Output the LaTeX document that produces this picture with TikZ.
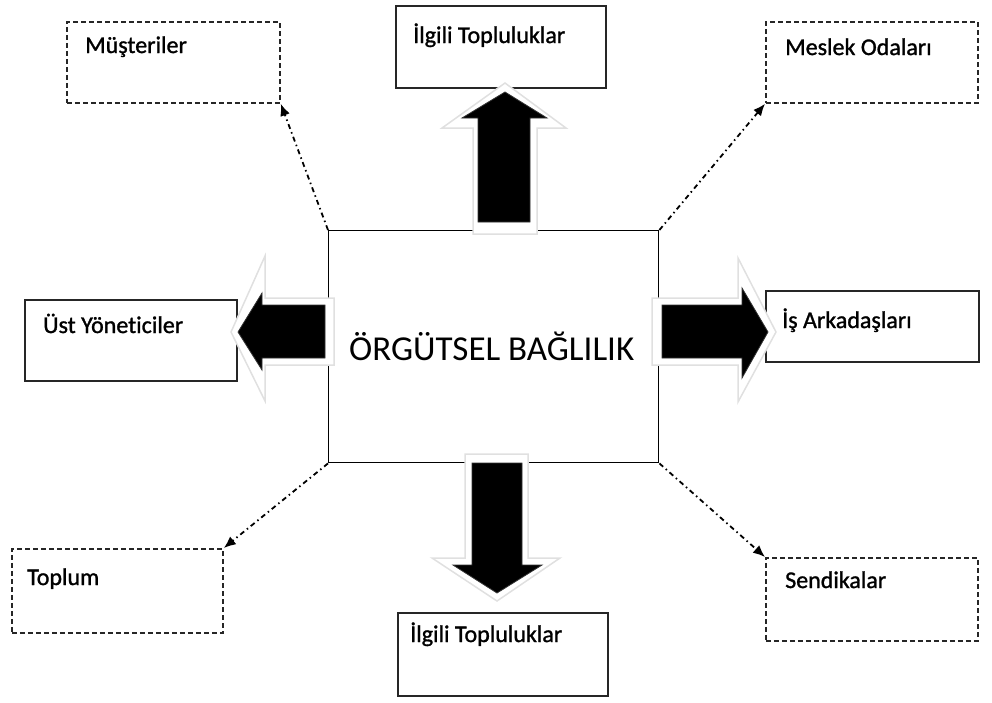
\documentclass[tikz,border=0pt]{standalone}
\usepackage{fontspec}
\setmainfont{Carlito}[Ligatures=NoCommon]
\newfontfamily\lblfont{Carlito}[Ligatures=NoCommon, FakeBold=1.2]
\usetikzlibrary{arrows.meta, calc}

\begin{document}
\begin{tikzpicture}[x=1pt, y=-1pt,
  solidbox/.style={draw=black!85, line width=1.8pt, rectangle, anchor=north west, inner sep=0pt},
  dashbox/.style={solidbox, dash pattern=on 5pt off 3pt},
  lbl/.style={anchor=base west, inner sep=0pt, font=\fontsize{24}{28}\lblfont},
  link/.style={line width=1.8pt, dash pattern=on 5pt off 3.5pt on 1.5pt off 3.5pt, -{Latex[length=12pt,width=10pt]}},
  halo/.style={fill=white, draw=black!12, line width=1.5pt},
  blk/.style={fill=black, draw=black!80, line width=0.8pt}]
\useasboundingbox (0,0) rectangle (992,702);

% Central box
\node[solidbox, draw=black, line width=1.4pt, minimum width=330, minimum height=232] (core) at (328,230) {};
\node[font=\fontsize{35}{40}\selectfont, inner sep=0pt] (core-t) at ($(core.center)+(-2,0)$) {ÖRGÜTSEL BAĞLILIK};

% Solid boxes
\node[solidbox, minimum width=210, minimum height=82] (topg) at (395,5) {};
\node[lbl] (topg-t) at ($(topg.north west)+(18,38)$) {İlgili Topluluklar};
\node[solidbox, minimum width=210, minimum height=83] (botg) at (397,612) {};
\node[lbl] (botg-t) at ($(botg.north west)+(13,30)$) {İlgili Topluluklar};
\node[solidbox, minimum width=212, minimum height=81] (ust) at (24,299) {};
\node[lbl] (ust-t) at ($(ust.north west)+(19,34)$) {Üst Yöneticiler};
\node[solidbox, minimum width=213, minimum height=71] (isark) at (765,290) {};
\node[lbl] (isark-t) at ($(isark.north west)+(17,38)$) {İş Arkadaşları};

% Dashed boxes
\node[dashbox, minimum width=213, minimum height=81] (must) at (66,21) {};
\node[lbl] (must-t) at ($(must.north west)+(19,32)$) {Müşteriler};
\node[dashbox, minimum width=212, minimum height=81] (meslek) at (765,21) {};
\node[lbl] (meslek-t) at ($(meslek.north west)+(20,34)$) {Meslek Odaları};
\node[dashbox, minimum width=211, minimum height=84] (toplum) at (11,548) {};
\node[lbl] (toplum-t) at ($(toplum.north west)+(16,37)$) {Toplum};
\node[dashbox, minimum width=212, minimum height=83] (sendika) at (765,557) {};
\node[lbl] (sendika-t) at ($(sendika.north west)+(20,31)$) {Sendikalar};

% Dash-dot links
\draw[link] (core.north west) -- (must.south east);
\draw[link] (core.north east) -- (meslek.south west);
\draw[link] (core.south west) -- (toplum.north east);
\draw[link] (core.south east) -- (sendika.north west);

% Block arrows, light outline behind
\draw[halo] (473,234) -- (473,128) -- (442,128) -- (505,83) -- (566,128) -- (537,128) -- (537,234) -- cycle;
\draw[halo] (465,454) -- (465,558) -- (432,558) -- (497,601) -- (560,558) -- (528,558) -- (528,454) -- cycle;
\draw[halo] (334,298) -- (265,298) -- (265,256) -- (231,332) -- (265,401) -- (265,365) -- (334,365) -- cycle;
\draw[halo] (652,298) -- (738,298) -- (738,258) -- (776,332) -- (738,402) -- (738,365) -- (652,365) -- cycle;

% Black arrows
\draw[blk] (478,222) -- (478,118) -- (462,118) -- (505,92) -- (547,118) -- (530,118) -- (530,222) -- cycle;
\draw[blk] (472,463) -- (472,565) -- (453,565) -- (497,593) -- (542,565) -- (522,565) -- (522,463) -- cycle;
\draw[blk] (325,305) -- (262,305) -- (262,293) -- (238,332) -- (262,370) -- (262,358) -- (325,358) -- cycle;
\draw[blk] (662,305) -- (742,305) -- (742,288) -- (768,332) -- (742,378) -- (742,358) -- (662,358) -- cycle;
\end{tikzpicture}
\end{document}
